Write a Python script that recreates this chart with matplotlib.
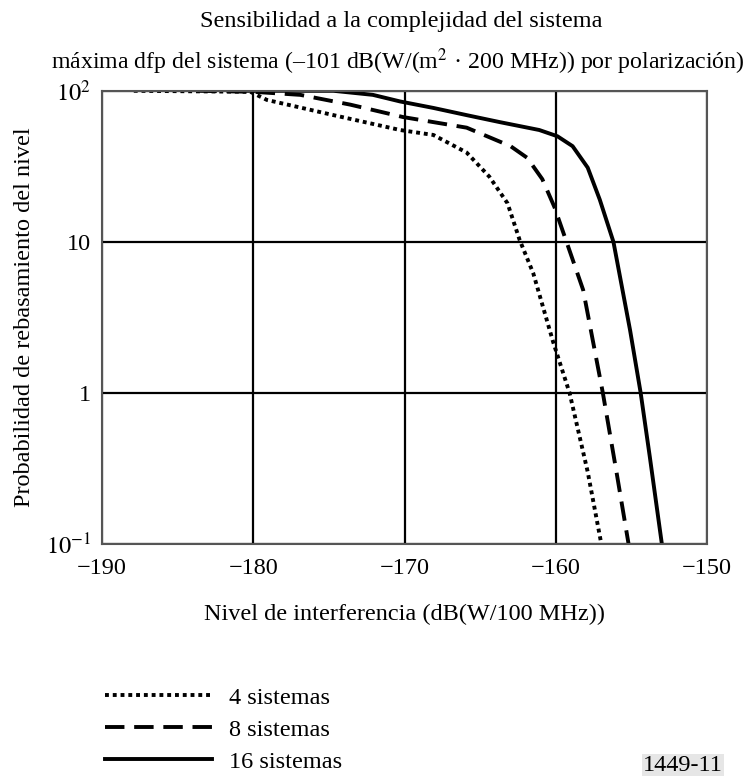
import matplotlib
matplotlib.use("Agg")
import matplotlib.pyplot as plt

plt.rcParams['font.family'] = ['Liberation Serif', 'DejaVu Serif']
plt.rcParams['mathtext.fontset'] = 'stix'

# 4 sistemas
x4 = [-187.9, -180.2, -179.1, -174.7, -170.3, -168.1, -165.9, -164.4, -163.2,
      -162.4, -161.5, -160.2, -159.1, -157.9, -157.0]
y4 = [100, 98.5, 87, 69, 55, 51, 39, 27, 18, 10.3, 6.2, 2.2, 1.0, 0.3, 0.1]

# 8 sistemas
x8 = [-183.7, -180.0, -176.9, -173.6, -170.1, -165.9, -163.0, -161.9, -160.9,
      -160.1, -159.3, -158.2, -156.9, -156.0, -155.2]
y8 = [100, 98.5, 94, 81, 67, 57, 43, 36, 26, 17, 10, 4.8, 1.0, 0.3, 0.1]

# 16 sistemas
x16 = [-181.0, -174.7, -172.1, -170.3, -168.1, -165.9, -163.7, -161.1, -159.9,
       -158.9, -157.9, -157.1, -156.2, -155.1, -154.4, -153.8, -153.0]
y16 = [100, 100, 94, 85, 77, 69, 62, 55, 50, 43, 31, 19, 10, 2.6, 1.0, 0.38, 0.1]

xticks = [-190, -180, -170, -160, -150]
xlabels = ['\u2212190', '\u2212180', '\u2212170', '\u2212160', '\u2212150']
yticks = [0.1, 1, 10, 100]
ylabels = ['$10^{-1}$', '1', '10', '$10^2$']

fs = 17.5

fig = plt.figure(figsize=(7.5, 7.76), dpi=100)
ax = fig.add_axes([0.136, 0.299, 0.807, 0.584])

l4, = ax.plot(x4, y4, color='black', lw=2.8, linestyle=(0, (1, 1)), label='4 sistemas')
l8, = ax.plot(x8, y8, color='black', lw=2.8, linestyle=(0, (5, 2.5)), label='8 sistemas')
l16, = ax.plot(x16, y16, color='black', lw=2.8, label='16 sistemas')

ax.set_yscale('log')
ax.set_xlim(-190, -150)
ax.set_ylim(0.1, 100)
ax.set_xticks(xticks)
ax.set_xticklabels(xlabels, fontsize=fs)
ax.set_yticks(yticks)
ax.set_yticklabels(ylabels, fontsize=fs)
ax.minorticks_off()
ax.tick_params(length=0, pad=8)
ax.tick_params(axis='x', pad=10)
ax.grid(True, color='black', lw=1.6)
for s in ax.spines.values():
    s.set_color('#555555')
    s.set_linewidth(1.5)

ax.set_xlabel('Nivel de interferencia (dB(W/100 MHz))', fontsize=fs, labelpad=18)
ax.set_ylabel('Probabilidad de rebasamiento del nivel', fontsize=fs, labelpad=8)

fig.text(0.535, 0.972, 'Sensibilidad a la complejidad del sistema', ha='center', va='center', fontsize=fs)
fig.text(0.993, 0.920, 'máxima dfp del sistema (\u2013101 dB(W/(m$^2$ \u00b7 200 MHz)) por polarización)',
         ha='right', va='center', fontsize=17.2)

fig.legend(handles=[l4, l8, l16], loc='upper left', bbox_to_anchor=(0.124, 0.131),
           frameon=False, fontsize=fs, handlelength=4.4, handletextpad=0.7,
           labelspacing=0.42, borderpad=0)

fig.text(0.964, 0.0, '1449-11', ha='right', va='bottom', fontsize=fs,
         bbox=dict(facecolor='#e6e6e6', edgecolor='none', pad=1))

fig.savefig('out.png', dpi=100)
